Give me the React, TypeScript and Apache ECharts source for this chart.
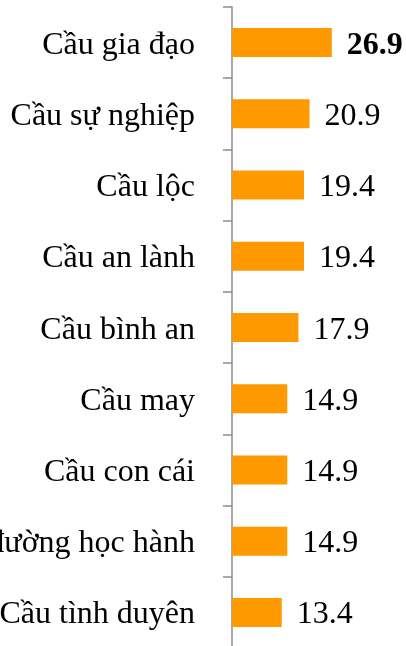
import React, { useEffect, useRef } from "react";
import * as echarts from "echarts";

const categories = [
  "Cầu gia đạo",
  "Cầu sự nghiệp",
  "Cầu lộc",
  "Cầu an lành",
  "Cầu bình an",
  "Cầu may",
  "Cầu con cái",
  "Cầu đường học hành",
  "Cầu tình duyên",
];
const values = [26.9, 20.9, 19.4, 19.4, 17.9, 14.9, 14.9, 14.9, 13.4];
const boldIndex = 0;

export default function App() {
  const ref = useRef<HTMLDivElement>(null);
  useEffect(() => {
    if (!ref.current) return;
    const chart = echarts.init(ref.current, null, { renderer: "svg" });
    const font = "'Liberation Serif', 'Times New Roman', serif";
    chart.setOption({
      animation: false,
      grid: {
        left: 232,
        top: 7,
        width: 148.4,
        height: 641,
        containLabel: false,
        outerBoundsMode: "none",
      },
      xAxis: {
        type: "value",
        min: 0,
        max: 40,
        show: false,
      },
      yAxis: {
        type: "category",
        data: categories,
        inverse: true,
        axisLine: { show: true, lineStyle: { color: "#8c8c8c", width: 1.5 } },
        axisTick: { show: true, length: 9, lineStyle: { color: "#8c8c8c", width: 1.5 } },
        axisLabel: {
          color: "#000",
          fontFamily: font,
          fontSize: 32,
          margin: 37,
          hideOverlap: false,
        },
        splitLine: { show: false },
      },
      series: [
        {
          type: "bar",
          barWidth: 29,
          data: values.map((v, i) => ({
            value: v,
            label: i === boldIndex ? { fontWeight: "bold" } : undefined,
          })),
          itemStyle: { color: "#FF9900" },
          label: {
            show: true,
            position: "right",
            distance: 15,
            color: "#000",
            fontFamily: font,
            fontSize: 32,
            formatter: (p: any) => Number(p.value).toFixed(1),
          },
        },
      ],
    });
    return () => chart.dispose();
  }, []);
  return (
    <div
      ref={ref}
      style={{ position: "fixed", left: 0, top: 0, width: 406, height: 646 }}
    />
  );
}
